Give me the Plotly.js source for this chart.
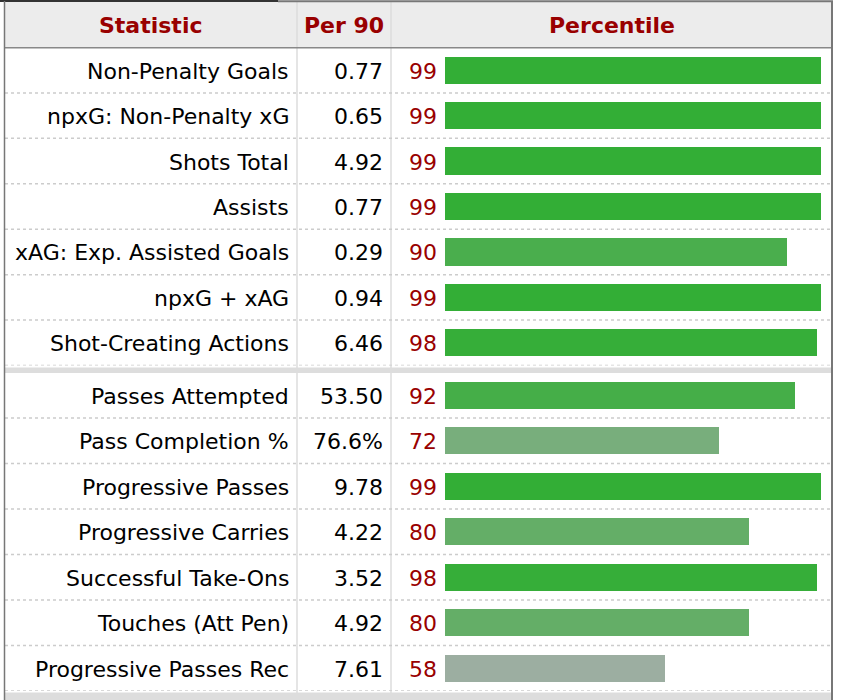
<!DOCTYPE html>
<html>
<head>
<title>Scouting report percentiles</title>
<script src="https://cdn.plot.ly/plotly-3.0.1.min.js"></script>
<style>
body{margin:0;padding:0;background:#fff;}
#chart{width:846px;height:700px;}
</style>
</head>
<body>
<div id="chart"></div>
<script>
// ---- data ----
var headers=["Statistic","Per 90","Percentile"];

// first block : shooting / creation
var statsA=["Non-Penalty Goals","npxG: Non-Penalty xG","Shots Total","Assists",
            "xAG: Exp. Assisted Goals","npxG + xAG","Shot-Creating Actions"];
var per90A=["0.77","0.65","4.92","0.77","0.29","0.94","6.46"];
var pctA=[99,99,99,99,90,99,98];

// second block : passing / carrying
var statsB=["Passes Attempted","Pass Completion %","Progressive Passes","Progressive Carries",
            "Successful Take-Ons","Touches (Att Pen)","Progressive Passes Rec"];
var per90B=["53.50","76.6%","9.78","4.22","3.52","4.92","7.61"];
var pctB=[92,72,99,80,98,80,58];

// ---- helpers ----
var W=846,H=700;
function px(x){return x/W;}        // pixel -> paper x
function py(y){return 1-y/H;}      // pixel -> paper y
var red="#990000";
var fnt="DejaVu Sans, Verdana, sans-serif";
var fsize=22;

function pctColor(p){ // greener when higher, greyer when lower
  var d=99-p;
  return 'rgb('+Math.round(51+d*2.57)+',174,'+Math.round(54+d*2.6)+')';
}

function barTrace(stats,pct,xa,ya){
  return {type:'bar',orientation:'h',x:pct,y:stats,xaxis:xa,yaxis:ya,
          width:0.6,marker:{color:pct.map(pctColor)},hoverinfo:'skip',showlegend:false};
}

var data=[barTrace(statsA,pctA,'x','y'),barTrace(statsB,pctB,'x2','y2')];

var annotations=[];
function rowText(stats,per90,pct,yref){
  for(var i=0;i<stats.length;i++){
    annotations.push({xref:'paper',yref:yref,x:px(291),y:stats[i],text:stats[i],showarrow:false,yshift:-1,
      xanchor:'right',yanchor:'middle',font:{family:fnt,size:fsize,color:'#000'}});
    annotations.push({xref:'paper',yref:yref,x:px(385),y:stats[i],text:per90[i],showarrow:false,yshift:-1,
      xanchor:'right',yanchor:'middle',font:{family:fnt,size:fsize,color:'#000'}});
    annotations.push({xref:'paper',yref:yref,x:px(439),y:stats[i],text:String(pct[i]),showarrow:false,yshift:-1,
      xanchor:'right',yanchor:'middle',font:{family:fnt,size:fsize,color:red}});
  }
}
rowText(statsA,per90A,pctA,'y');
rowText(statsB,per90B,pctB,'y2');

// header labels
var hx=[150.5,344,611.5];
for(var h=0;h<headers.length;h++){
  annotations.push({xref:'paper',yref:'paper',x:px(hx[h]),y:py(25.5),text:'<b>'+headers[h]+'</b>',
    showarrow:false,xanchor:'center',yanchor:'middle',font:{family:fnt,size:fsize,color:red}});
}

var shapes=[];
// header background
shapes.push({type:'rect',xref:'paper',yref:'paper',x0:px(4),x1:px(832),y0:py(2),y1:py(47.5),
  fillcolor:'#ececec',line:{width:0},layer:'below'});
// column dividers
[297,391].forEach(function(x){
  shapes.push({type:'line',xref:'paper',yref:'paper',x0:px(x),x1:px(x),y0:py(2),y1:py(700),
    line:{color:'#dddddd',width:1.5}});
});
// dotted row lines
function rowLines(n,yref){
  for(var i=0;i<n;i++){
    shapes.push({type:'line',xref:'paper',yref:yref,x0:px(5),x1:px(831),y0:i+0.5,y1:i+0.5,
      line:{color:'#cccccc',width:1.5,dash:'dot'}});
  }
}
rowLines(statsA.length,'y');
rowLines(statsB.length,'y2');
// group separator bands
shapes.push({type:'rect',xref:'paper',yref:'paper',x0:px(4),x1:px(832),y0:py(367.5),y1:py(373),
  fillcolor:'#dddddd',line:{width:0}});
shapes.push({type:'rect',xref:'paper',yref:'paper',x0:px(4),x1:px(832),y0:py(692.5),y1:py(700),
  fillcolor:'#dddddd',line:{width:0}});
// borders
shapes.push({type:'line',xref:'paper',yref:'paper',x0:px(0),x1:px(278),y0:py(1),y1:py(1),line:{color:'#333',width:2}});
shapes.push({type:'line',xref:'paper',yref:'paper',x0:px(278),x1:px(833),y0:py(1.2),y1:py(1.2),line:{color:'#777',width:2}});
shapes.push({type:'line',xref:'paper',yref:'paper',x0:px(4),x1:px(832),y0:py(47.8),y1:py(47.8),line:{color:'#888',width:1.5}});
shapes.push({type:'line',xref:'paper',yref:'paper',x0:px(4.5),x1:px(4.5),y0:py(1),y1:py(700),line:{color:'#777',width:1.5}});
shapes.push({type:'line',xref:'paper',yref:'paper',x0:px(832),x1:px(832),y0:py(1),y1:py(700),line:{color:'#777',width:2}});

var hidden={showgrid:false,zeroline:false,showticklabels:false,ticks:'',showline:false,fixedrange:true};
var xdom=[px(445),px(825)];
var layout={
  width:W,height:H,margin:{l:0,r:0,t:0,b:0},
  paper_bgcolor:'#fff',plot_bgcolor:'rgba(0,0,0,0)',
  bargap:0,
  xaxis:Object.assign({domain:xdom,range:[0,100],anchor:'y'},hidden),
  xaxis2:Object.assign({domain:xdom,range:[0,100],anchor:'y2'},hidden),
  yaxis:Object.assign({domain:[py(365.5),py(47.5)],type:'category',range:[6.5,-0.5],anchor:'x'},hidden),
  yaxis2:Object.assign({domain:[py(691),py(372.5)],type:'category',range:[6.5,-0.5],anchor:'x2'},hidden),
  annotations:annotations,
  shapes:shapes
};

Plotly.newPlot('chart',data,layout,{displayModeBar:false,staticPlot:true});
</script>
</body>
</html>
